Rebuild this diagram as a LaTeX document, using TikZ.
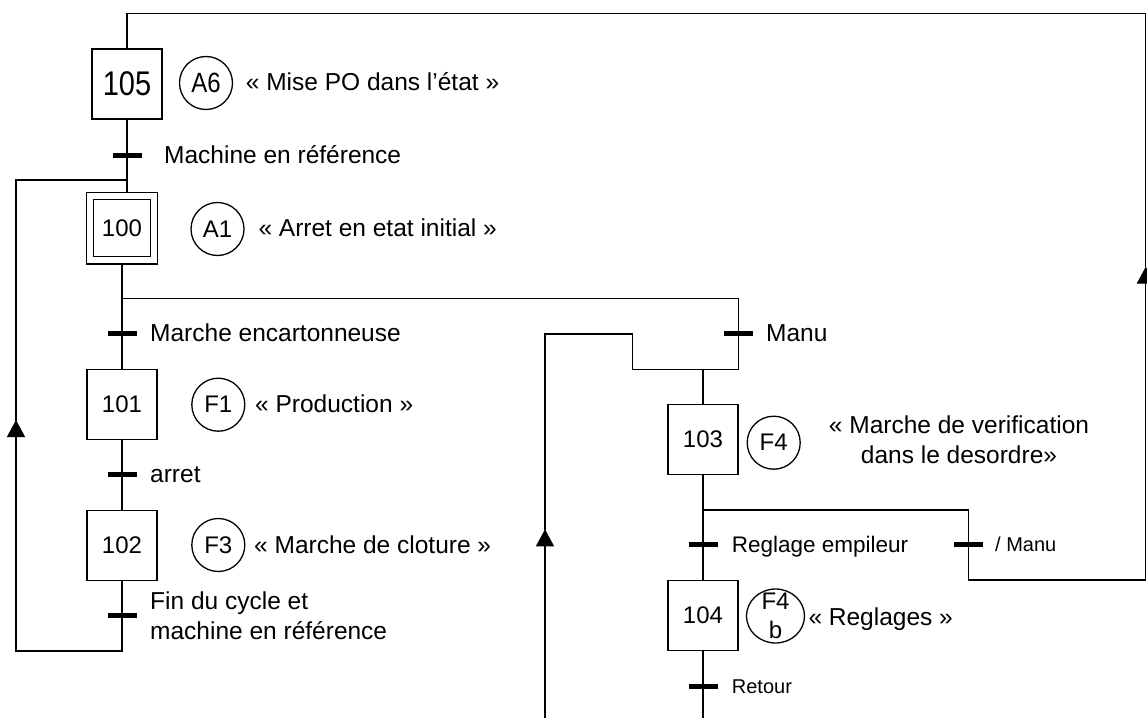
\documentclass[tikz,border=0pt]{standalone}
\usepackage{fontspec}
\setmainfont{Liberation Sans}
\usetikzlibrary{arrows.meta,shapes.geometric}

\begin{document}
\begin{tikzpicture}[x=1pt, y=-1pt,
  lien/.style={line width=1.3pt, line cap=rect},
  fleche/.style={lien, -{Triangle[width=18pt,length=17pt]}},
  etape/.style={draw, line width=1.3pt, minimum size=70pt, inner sep=0pt, font=\fontsize{24}{28}\selectfont},
  trans/.style={fill=black, minimum width=29pt, minimum height=5pt, inner sep=0pt},
  action/.style={draw, circle, line width=1.3pt, minimum size=53pt, inner sep=0pt, font=\fontsize{24}{28}\selectfont},
  lbl/.style={anchor=west, inner sep=0pt, text height=17.2pt, text depth=0pt, font=\fontsize{24.5}{30}\selectfont},
  lblm/.style={inner sep=0pt, font=\fontsize{24.5}{30}\selectfont}]
  \useasboundingbox (0,0) rectangle (1147,717);

  % Etapes
  \node[etape, font=\fontsize{29}{30}\selectfont] (s105) at (127,84) {\scalebox{1}[1.18]{105}};
  \node[etape, minimum size=71.5pt] (s100) at (122,228.3) {};
  \node[etape, minimum size=57pt] (s100i) at (s100) {100};
  \node[etape] (s101) at (122,404.7) {101};
  \node[etape] (s102) at (122,545.5) {102};
  \node[etape] (s103) at (703,439.7) {103};
  \node[etape] (s104) at (703,615.7) {104};

  % Transitions
  \node[trans] (t1) at (127,155) {};
  \node[trans] (t2) at (122,333.3) {};
  \node[trans] (t3) at (122,474.3) {};
  \node[trans] (t4) at (122,615) {};
  \node[trans] (t5) at (738.3,333.3) {};
  \node[trans] (t6) at (703,544.3) {};
  \node[trans] (t7) at (968.3,544.3) {};
  \node[trans] (t8) at (703,686) {};

  % Actions
  \node[action] (a6) at (206,83) {\scalebox{1}[1.16]{A6}};
  \node[action] (a1) at (217.5,229) {A1};
  \node[action] (f1) at (218.3,404.7) {F1};
  \node[action] (f3) at (218.3,545) {F3};
  \node[action] (f4) at (773.7,442.7) {F4};
  \node[draw, ellipse, line width=1.3pt, minimum width=58pt, minimum height=54pt] (f4b) at (775.5,616) {};
  \node[lblm, align=center, font=\fontsize{24}{29}\selectfont] at (f4b) {F4\\b};

  % Textes
  \node[lbl] (x105) at (245.7,81.7) {« Mise PO dans l’état »};
  \node[lbl] (x100) at (258.3,227.5) {« Arret en etat initial »};
  \node[lbl] (x101) at (255,404) {« Production »};
  \node[lbl] (x102) at (254,545) {« Marche de cloture »};
  \node[lblm, align=center] (x103) at (959,440) {« Marche de verification\\dans le desordre»};
  \node[lbl] (x104) at (808.3,616.7) {« Reglages »};

  \node[lbl] (r1) at (164,155) {Machine en référence};
  \node[lbl] (r2) at (150,333.3) {Marche encartonneuse};
  \node[lbl] (r3) at (150,474.3) {arret};
  \node[lblm, anchor=west, align=left] (r4) at (150,616) {Fin du cycle et\\machine en référence};
  \node[lbl] (r5) at (766,333.3) {Manu};
  \node[lbl, font=\fontsize{22.5}{27}\selectfont, text height=16.1pt] (r6) at (731.7,544.3) {Reglage empileur};
  \node[lbl, font=\fontsize{20}{24}\selectfont, text height=14.3pt] (r7) at (995,544.3) {/ Manu};
  \node[lbl, font=\fontsize{20}{24}\selectfont, text height=14.3pt] (r8) at (731.7,686) {Retour};

  % Coins des liaisons
  \coordinate (brM) at (738.3,298.5);
  \coordinate (jM) at (738.3,369.3);
  \coordinate (brD) at (968.3,510);
  \coordinate (cR) at (1145.8,580);
  \coordinate (arR) at (1145.8,266.7);
  \coordinate (cTR) at (1145.8,13.3);
  \coordinate (cTL) at (127,13.3);
  \coordinate (lpBR) at (122,651);
  \coordinate (lpBL) at (16,651);
  \coordinate (lpAr) at (16,420);
  \coordinate (lpTL) at (16,180);
  \coordinate (mlB) at (545,717);
  \coordinate (mlAr) at (545,529.3);
  \coordinate (mlTL) at (545,334);
  \coordinate (mlTR) at (632.3,334);
  \coordinate (mlJ) at (632.3,369.3);

  % Sequence principale
  \draw[lien] (s105.south) -- (t1 |- s100.north);
  \draw[lien] (s100.south) -- (s101.north);
  \draw[lien] (s101.south) -- (s102.north);
  \draw[lien] (s102.south) -- (lpBR) -- (lpBL);
  \draw[fleche] (lpBL) -- (lpAr);
  \draw[lien] (lpAr) -- (lpTL) -- (t1 |- lpTL);

  % Marche manuelle
  \draw[lien] (s100.south |- brM) -- (brM) -- (t5) -- (jM) -- (mlJ);
  \draw[fleche] (mlB) -- (mlAr);
  \draw[lien] (mlAr) -- (mlTL) -- (mlTR) -- (mlJ);
  \draw[lien] (s103.north |- jM) -- (s103.north);
  \draw[lien] (s103.south) -- (s104.north);
  \draw[lien] (s104.south) -- (s104.south |- mlB);

  % Retour vers 105
  \draw[lien] (s103.south |- brD) -- (brD) -- (t7) -- (t7 |- cR) -- (cR);
  \draw[fleche] (cR) -- (arR);
  \draw[lien] (arR) -- (cTR) -- (cTL) -- (s105.north);
\end{tikzpicture}
\end{document}
